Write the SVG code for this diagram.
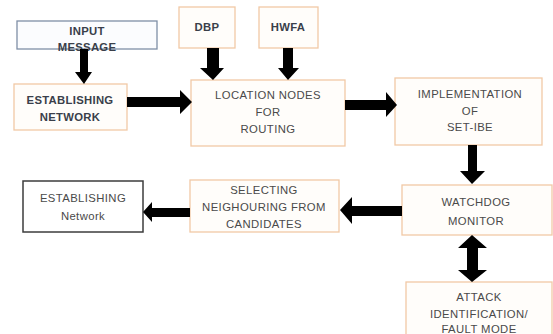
<svg xmlns="http://www.w3.org/2000/svg" width="553" height="334" viewBox="0 0 553 334">
<style>
.box{fill:#fffdfa;stroke:#f1c9a6;stroke-width:1.3}
.t{font-family:"Liberation Sans",Arial,sans-serif;font-size:11.3px;letter-spacing:0.4px;fill:#4a4a4a;text-anchor:middle}
.b{font-weight:bold;fill:#3a3f4a;letter-spacing:0.3px}
.arr{fill:#000}
</style>
<rect width="553" height="334" fill="#fff"/>
<g id="input-message">
<rect x="17" y="21" width="140" height="28" fill="#fbfcfe" stroke="#7f8fa6" stroke-width="1.3"/>
<text class="t b" x="87" y="35">INPUT</text>
<text class="t b" x="87" y="51">MESSAGE</text>
</g>
<g id="establishing-network">
<rect class="box" x="14" y="84" width="113" height="46"/>
<text class="t b" x="70" y="104">ESTABLISHING</text>
<text class="t b" x="70" y="121">NETWORK</text>
</g>
<g id="dbp">
<rect class="box" x="179" y="7" width="56" height="41"/>
<text class="t b" x="207" y="31">DBP</text>
</g>
<g id="hwfa">
<rect class="box" x="259" y="7" width="59" height="41"/>
<text class="t b" x="288" y="31">HWFA</text>
</g>
<g id="location-nodes">
<rect class="box" x="191" y="80" width="154" height="66"/>
<text class="t" x="268" y="99">LOCATION NODES</text>
<text class="t" x="268" y="116">FOR</text>
<text class="t" x="268" y="133">ROUTING</text>
</g>
<g id="implementation">
<rect class="box" x="395" y="78" width="147" height="67"/>
<text class="t" x="470" y="98">IMPLEMENTATION</text>
<text class="t" x="470" y="115">OF</text>
<text class="t" x="470" y="131">SET-IBE</text>
</g>
<g id="watchdog">
<rect class="box" x="402" y="185" width="150" height="50"/>
<text class="t" x="476" y="206">WATCHDOG</text>
<text class="t" x="476" y="225">MONITOR</text>
</g>
<g id="attack">
<rect class="box" x="406" y="282" width="146" height="54"/>
<text class="t" x="479" y="301">ATTACK</text>
<text class="t" x="479" y="318">IDENTIFICATION/</text>
<text class="t" x="479" y="333">FAULT MODE</text>
</g>
<g id="selecting">
<rect class="box" x="190" y="180" width="149" height="52"/>
<text class="t" x="264" y="194">SELECTING</text>
<text class="t" x="264" y="211">NEIGHOURING FROM</text>
<text class="t" x="264" y="228">CANDIDATES</text>
</g>
<g id="establishing-network-2">
<rect x="23" y="181" width="120" height="51" fill="#fff" stroke="#3c3c3c" stroke-width="1.5"/>
<text class="t" x="83" y="202">ESTABLISHING</text>
<text class="t" x="83" y="220">Network</text>
</g>
<g id="connectors" class="arr">
<polygon points="80,49 88,49 88,72 92,72 84,84 75,72 80,72"/>
<polygon points="127,97 180,97 180,90 192,102 180,114 180,107 127,107"/>
<polygon points="207,48 219,48 219,68 224,68 213,80 200,68 207,68"/>
<polygon points="283,48 293,48 293,68 299,68 288,80 278,68 283,68"/>
<polygon points="345,100 386,100 386,92 397,105 386,117 386,110 345,110"/>
<polygon points="468,145 477,145 477,171 485,171 472,184 460,171 468,171"/>
<polygon points="472,235 487,248 478,248 478,270 487,270 472,282 458,270 467,270 467,248 458,248"/>
<polygon points="402,206 352,206 352,197 340,210 352,224 352,216 402,216"/>
<polygon points="190,208 152,208 152,202 143,212 152,222 152,217 190,217"/>
</g>
</svg>
